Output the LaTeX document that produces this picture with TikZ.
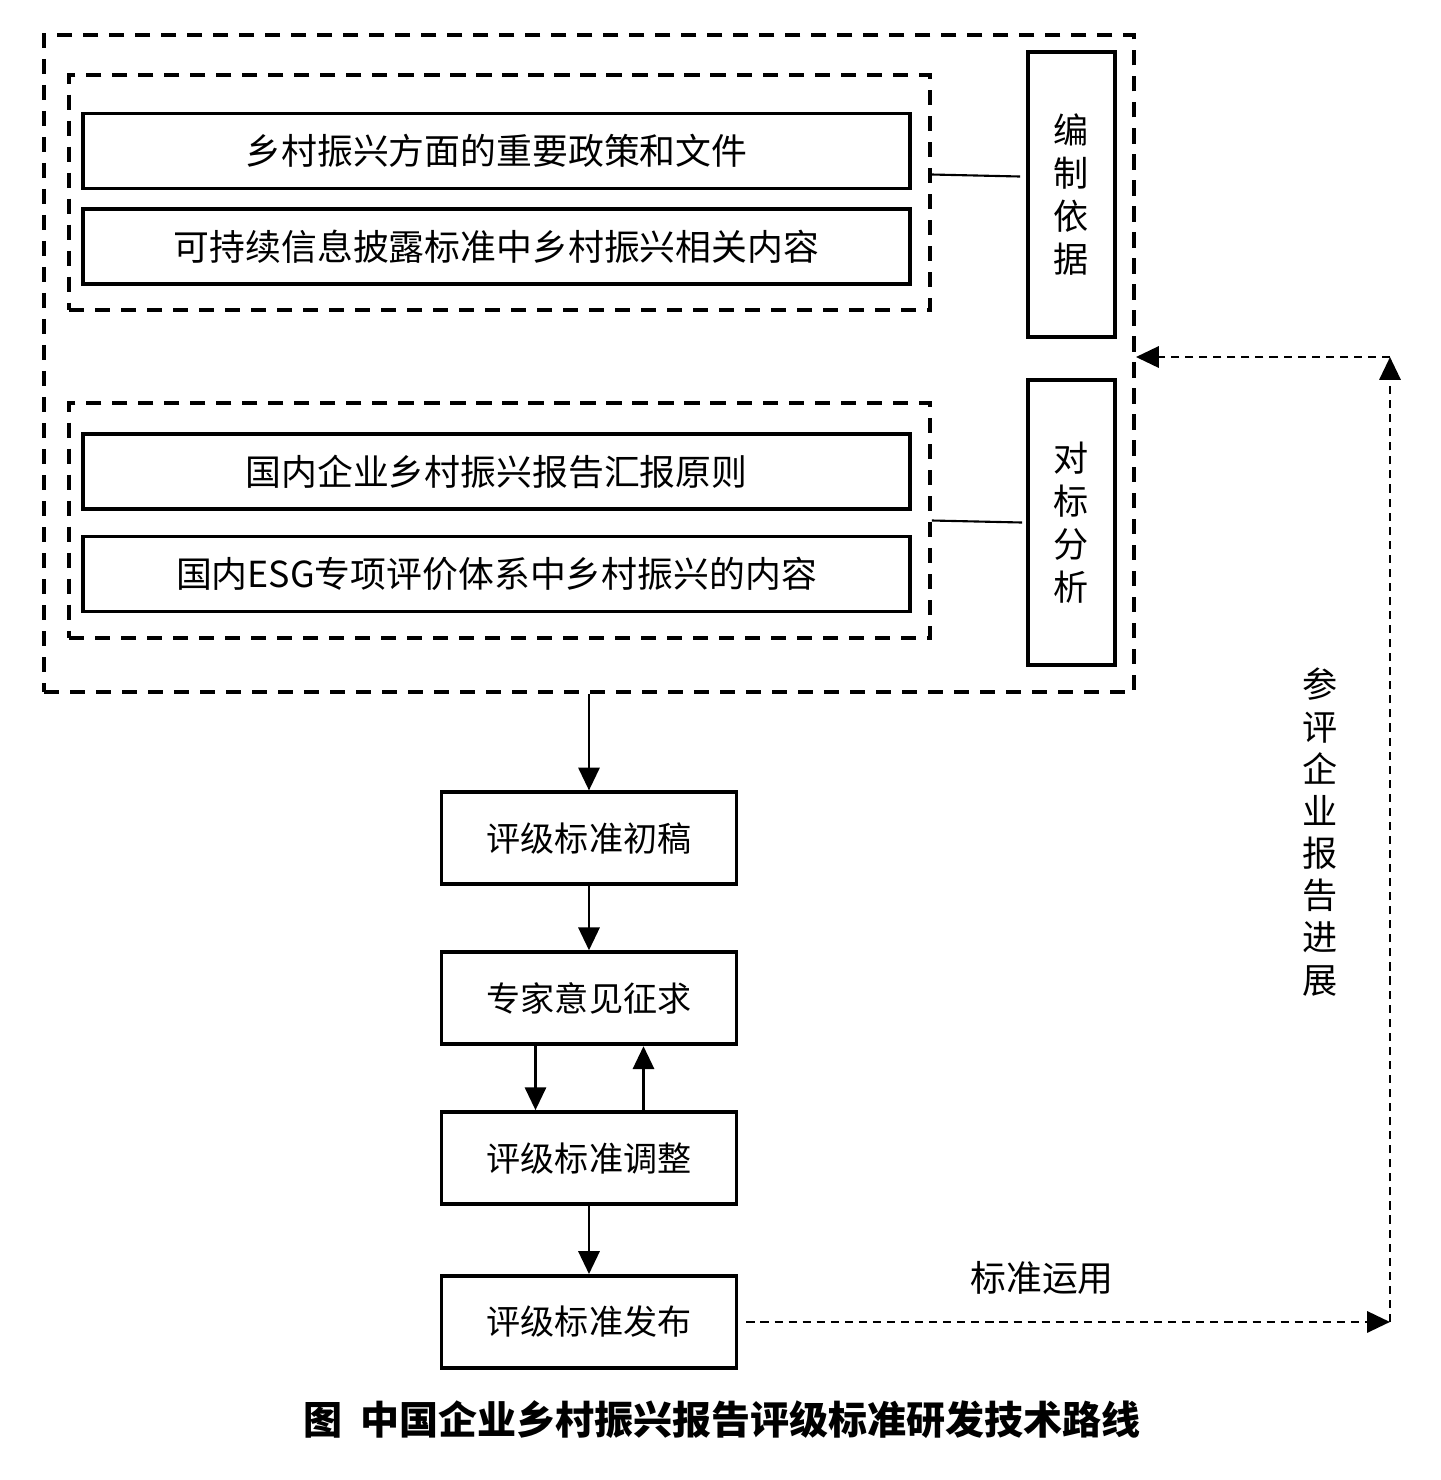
\documentclass[tikz,border=0pt]{standalone}
\usepackage{fontspec}
\setmainfont{Noto Sans CJK SC}
\usetikzlibrary{positioning, arrows.meta}

\begin{document}
\begin{tikzpicture}[
    node distance=0.64cm,
    font=\fontsize{10.2pt}{12.2pt}\selectfont,
    % box styles
    groupbox/.style={rectangle, draw=black, line width=1.1pt, dash pattern=on 4.3pt off 3.1pt, inner sep=0pt},
    itembox/.style={rectangle, draw=black, line width=1.1pt, minimum width=8.27cm, minimum height=0.75cm, inner sep=0pt},
    tagbox/.style={rectangle, draw=black, line width=1.1pt, minimum width=0.87cm, minimum height=2.85cm, align=center, font=\fontsize{10pt}{12.2pt}\selectfont},
    stagebox/.style={rectangle, draw=black, line width=1.1pt, minimum width=2.95cm, minimum height=0.92cm, font=\fontsize{9.7pt}{11pt}\selectfont},
    % arrow styles
    link/.style={line width=0.6pt},
    flow/.style={-{Triangle[length=6.5pt,width=6pt]}, line width=0.8pt},
    feedback/.style={-{Triangle[length=6.5pt,width=6pt]}, line width=0.8pt, dash pattern=on 2.3pt off 1.7pt}
]
\useasboundingbox (0,0) rectangle (14.41,-14.80);

% -- upper part --
\node[groupbox, minimum width=10.90cm, minimum height=6.57cm] (outer) at (5.89,-3.635) {};
\node[groupbox, minimum width=8.61cm, minimum height=2.35cm] (grpA) at (4.995,-1.925) {};
\node[groupbox, minimum width=8.61cm, minimum height=2.35cm] (grpB) at (4.995,-5.205) {};

\node[itembox] (policy) at (4.965,-1.51) {乡村振兴方面的重要政策和文件};
\node[itembox] (disclose) at (4.965,-2.465) {可持续信息披露标准中乡村振兴相关内容};
\node[itembox] (principle) at (4.965,-4.715) {国内企业乡村振兴报告汇报原则};
\node[itembox] (esg) at (4.965,-5.74) {国内ESG专项评价体系中乡村振兴的内容};

\node[tagbox] (basis) at (10.715,-1.945) {编\\制\\依\\据};
\node[tagbox] (bench) at (10.715,-5.225) {对\\标\\分\\析};

\draw[link] ([yshift=0.18cm]grpA.east) -- ([xshift=-0.06cm,yshift=0.18cm]basis.west);
\draw[link] (grpB.east) -- ([xshift=-0.04cm]bench.west);

% -- flow part --
\node[stagebox, below=0.965cm of outer] (draft) {评级标准初稿};
\node[stagebox, below=of draft] (expert) {专家意见征求};
\node[stagebox, below=of expert] (adjust) {评级标准调整};
\node[stagebox, below=0.68cm of adjust] (publish) {评级标准发布};

\draw[flow] (outer.south) -- (draft.north);
\draw[flow] (draft.south) -- (expert.north);
\draw[flow] ([xshift=-0.535cm]expert.south) -- ([xshift=-0.535cm]adjust.north);
\draw[flow] ([xshift=0.545cm]adjust.north) -- ([xshift=0.545cm]expert.south);
\draw[flow] (adjust.south) -- (publish.north);

% -- feedback --
\coordinate (turnhigh) at (13.90,-3.57);
\coordinate (turnlow) at (turnhigh |- publish.east);
\draw[feedback, shorten <=0.08cm] (publish.east) -- (turnlow);
\draw[feedback] (turnlow) -- (turnhigh);
\draw[feedback] (turnhigh) -- (turnhigh -| outer.east);

\node (apply) at (10.42,-12.78) {标准运用};
\node[align=center, font=\fontsize{10pt}{12.0pt}\selectfont] (progress) at (13.20,-8.32) {参\\评\\企\\业\\报\\告\\进\\展};

\node[font=\fontsize{11.1pt}{13pt}\selectfont\bfseries] (caption) at (7.22,-14.20) {图\ \ 中国企业乡村振兴报告评级标准研发技术路线};

\end{tikzpicture}
\end{document}
